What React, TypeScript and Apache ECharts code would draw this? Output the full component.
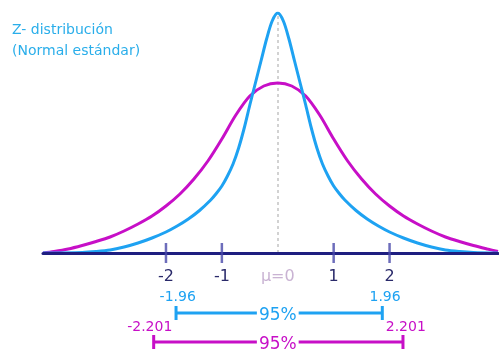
import React, { useEffect, useRef } from "react";
import * as echarts from "echarts";

// Curve samples: [z value, relative height]
const zCurve: [number, number][] = [
  [-4.2, 0], [-3.5, 0.6], [-3.25, 1.5], [-3.0, 3], [-2.75, 6], [-2.5, 10],
  [-2.25, 15], [-2.0, 21], [-1.8, 27], [-1.6, 34], [-1.4, 42.5], [-1.2, 53],
  [-1.1, 59.5], [-1.0, 67], [-0.9, 77], [-0.8, 89], [-0.7, 105], [-0.6, 125],
  [-0.5, 148], [-0.4, 170], [-0.3, 192], [-0.2, 214], [-0.1, 232], [0, 240],
  [0.1, 232], [0.2, 214], [0.3, 192], [0.4, 170], [0.5, 148], [0.6, 125],
  [0.7, 105], [0.8, 89], [0.9, 77], [1.0, 67], [1.1, 59.5], [1.2, 53],
  [1.4, 42.5], [1.6, 34], [1.8, 27], [2.0, 21], [2.25, 15], [2.5, 10],
  [2.75, 6], [3.0, 3], [3.25, 1.5], [3.5, 0.6], [3.94, 0],
];
const tCurve: [number, number][] = [
  [-4.2, 0], [-4.0, 1.5], [-3.75, 4], [-3.5, 7.5], [-3.25, 11.5], [-3.0, 16],
  [-2.75, 22], [-2.5, 29], [-2.25, 37], [-2.0, 47], [-1.75, 59], [-1.5, 74],
  [-1.25, 92], [-1.0, 114], [-0.75, 138], [-0.5, 157], [-0.25, 167], [0, 170],
  [0.25, 167], [0.5, 157], [0.75, 138], [1.0, 114], [1.25, 92], [1.5, 74],
  [1.75, 59], [2.0, 47], [2.25, 37], [2.5, 29], [2.75, 22], [3.0, 16],
  [3.25, 11.5], [3.5, 7.5], [3.75, 4], [3.94, 1.5],
];
const tickValues = [-2, -1, 1, 2];
const labelValues = [-2, -1, 0, 1, 2];
const zBracket = [-1.82, 1.87];
const tBracket = [-2.22, 2.24];
const zBracketLabels: { at: number; text: string }[] = [
  { at: -1.79, text: "-1.96" },
  { at: 1.92, text: "1.96" },
];
const tBracketLabels: { at: number; text: string }[] = [
  { at: -2.29, text: "-2.201" },
  { at: 2.29, text: "2.201" },
];
const titleLines = ["Z- distribución", "(Normal estándar)"];

const BLUE = "#1ea2f2";
const MAGENTA = "#c70fc7";
const NAVY = "#1e1e80";
const FONT = "DejaVu Sans";

export default function App() {
  const ref = useRef<HTMLDivElement>(null);
  useEffect(() => {
    document.body.style.margin = "0";
    const chart = echarts.init(ref.current!, null, { renderer: "svg" });
    chart.setOption({
      animation: false,
      title: {
        text: titleLines.join("\n"),
        left: 12,
        top: 18,
        padding: 0,
        textStyle: {
          color: "#2aaeea",
          fontSize: 14,
          fontWeight: "normal",
          fontFamily: FONT,
          lineHeight: 21,
        },
      },
      grid: { left: 43, right: 1, top: 13, bottom: 96 },
      xAxis: {
        type: "value",
        min: -4.2,
        max: 3.94,
        z: 3,
        splitLine: { show: false },
        axisTick: { show: false },
        axisLine: { onZero: false, lineStyle: { color: NAVY, width: 3 } },
        axisLabel: {
          customValues: labelValues,
          margin: 14,
          fontFamily: FONT,
          fontSize: 16,
          color: "#2a2a6a",
          formatter: (v: number) => (v === 0 ? "{mu|μ=0}" : String(v)),
          rich: {
            mu: { color: "#c9b3d3", fontSize: 16, fontFamily: FONT },
          },
        },
      },
      yAxis: { type: "value", min: 0, max: 240, show: false },
      series: [
        {
          type: "line",
          data: tCurve,
          smooth: 0.3,
          symbol: "none",
          lineStyle: { color: MAGENTA, width: 3 },
          z: 2,
        },
        {
          type: "line",
          data: zCurve,
          smooth: 0.3,
          symbol: "none",
          lineStyle: { color: BLUE, width: 3 },
          z: 2,
          markLine: {
            silent: true,
            symbol: ["none", "none"],
            label: { show: false },
            lineStyle: { color: "#c4c4c4", type: [3, 3], width: 1.5 },
            data: [{ xAxis: 0 }],
            z: 1,
          },
        },
        {
          type: "scatter",
          data: tickValues.map((v) => [v, 0]),
          symbol: "rect",
          symbolSize: [2.5, 20],
          itemStyle: { color: "#4848aa" },
          silent: true,
          z: 5,
        },
      ],
    });

    const px = (v: number) => chart.convertToPixel({ xAxisIndex: 0 }, v) as number;
    const bracket = (range: number[], y: number, color: string, name: string) => [
      {
        type: "line",
        shape: { x1: px(range[0]), y1: y, x2: px(range[1]), y2: y },
        style: { stroke: color, lineWidth: 3 },
        z: 10,
      },
      {
        type: "line",
        shape: { x1: px(range[0]), y1: y - 7, x2: px(range[0]), y2: y + 7 },
        style: { stroke: color, lineWidth: 3 },
        z: 10,
      },
      {
        type: "line",
        shape: { x1: px(range[1]), y1: y - 7, x2: px(range[1]), y2: y + 7 },
        style: { stroke: color, lineWidth: 3 },
        z: 10,
      },
      {
        type: "text",
        x: px(0),
        y: y + 1,
        z: 11,
        style: {
          text: name,
          fill: color,
          font: `17px "${FONT}"`,
          align: "center",
          verticalAlign: "middle",
          backgroundColor: "#fff",
          padding: [0, 2],
        },
      },
    ];
    const labels = (list: { at: number; text: string }[], y: number, color: string) =>
      list.map((l) => ({
        type: "text",
        x: px(l.at),
        y,
        z: 11,
        style: {
          text: l.text,
          fill: color,
          font: `14px "${FONT}"`,
          align: "center",
          verticalAlign: "middle",
        },
      }));

    chart.setOption({
      graphic: [
        ...labels(zBracketLabels, 296, BLUE),
        ...bracket(zBracket, 313, BLUE, "95%"),
        ...labels(tBracketLabels, 326, MAGENTA),
        ...bracket(tBracket, 342, MAGENTA, "95%"),
      ],
    });
    return () => chart.dispose();
  }, []);
  return (
    <div
      ref={ref}
      style={{ position: "fixed", left: 0, top: 0, width: 499, height: 349 }}
    />
  );
}
